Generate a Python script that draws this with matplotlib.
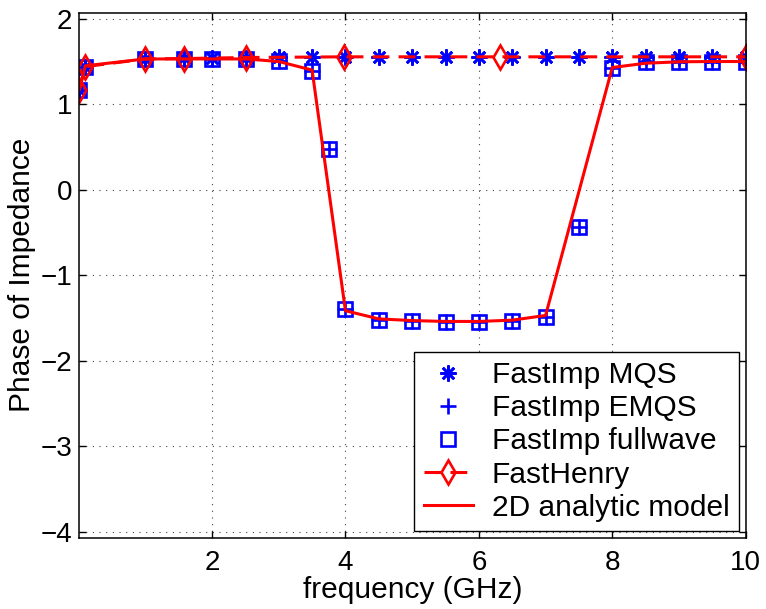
import matplotlib
matplotlib.use("Agg")
import matplotlib.pyplot as plt

plt.rcParams['font.family'] = ['Liberation Sans', 'DejaVu Sans']

# Frequencies (GHz) and phase of impedance (rad)
fastimp_freq = [0.01, 0.1, 1, 1.585, 2, 2.512, 3, 3.5, 3.75, 4, 4.5, 5, 5.5,
                6, 6.5, 7, 7.5, 8, 8.5, 9, 9.5, 10]
fullwave_phase = [1.17, 1.44, 1.53, 1.535, 1.53, 1.53, 1.51, 1.39, 0.48, -1.40,
                  -1.52, -1.54, -1.55, -1.55, -1.53, -1.49, -0.43, 1.43, 1.49,
                  1.50, 1.50, 1.50]
emqs_phase = [1.17, 1.44, 1.53, 1.535, 1.53, 1.53, 1.51, 1.39, 0.48, -1.40,
              -1.52, -1.54, -1.55, -1.55, -1.53, -1.49, -0.43, 1.43, 1.49,
              1.50, 1.50, 1.50]

mqs_freq = [0.01, 0.1, 1, 1.585, 2, 2.512, 3, 3.5, 4, 4.5, 5, 5.5, 6, 6.5, 7,
            7.5, 8, 8.5, 9, 9.5, 10]
mqs_phase = [1.17, 1.44, 1.53, 1.54, 1.54, 1.545, 1.55, 1.555, 1.555, 1.555,
             1.555, 1.555, 1.555, 1.555, 1.555, 1.555, 1.555, 1.555, 1.555,
             1.555, 1.555]

fasthenry_freq = [0.01, 0.1, 1, 1.585, 2.512, 3.981, 6.310, 10]
fasthenry_phase = [1.17, 1.44, 1.53, 1.535, 1.547, 1.555, 1.555, 1.555]

analytic_freq = [0.01, 0.1, 1, 1.585, 2, 2.512, 3, 3.5, 4, 4.5, 5, 5.5, 6,
                 6.5, 7, 8, 8.5, 9, 9.5, 10]
analytic_phase = [1.17, 1.45, 1.53, 1.53, 1.53, 1.53, 1.50, 1.40, -1.415,
                  -1.51, -1.53, -1.54, -1.54, -1.525, -1.47, 1.43, 1.48,
                  1.497, 1.50, 1.50]

x_ticks = [2, 4, 6, 8, 10]
y_ticks = [-4, -3, -2, -1, 0, 1, 2]

fig = plt.figure(figsize=(7.66, 6.09), dpi=100)
ax = fig.add_axes([0.1035, 0.117, 0.870, 0.862])

blue = '#0000ff'
red = '#ff0000'

ax.plot(mqs_freq, mqs_phase, linestyle='none', marker=(8, 2, 0),
        markersize=11.5, markeredgewidth=1.9, color=blue, label='FastImp MQS')
ax.plot(fastimp_freq, emqs_phase, linestyle='none', marker='+',
        markersize=11, markeredgewidth=1.9, color=blue, label='FastImp EMQS')
ax.plot(fastimp_freq, fullwave_phase, linestyle='none', marker='s',
        markersize=10.5, markeredgewidth=1.9, markerfacecolor='none',
        markeredgecolor=blue, label='FastImp fullwave')
ax.plot(fasthenry_freq, fasthenry_phase, linestyle=(0, (5.5, 3)),
        linewidth=2.2, marker='d', markersize=12.5, markeredgewidth=1.9,
        markerfacecolor='none', markeredgecolor=red, color=red,
        label='FastHenry')
ax.plot(analytic_freq, analytic_phase, linestyle='-', linewidth=2.2,
        color=red, label='2D analytic model')

ax.set_xlim(0.01, 10)
ax.set_ylim(-4.07, 2.07)
ax.set_xticks(x_ticks)
ax.set_yticks(y_ticks)
ax.set_xticklabels([str(t) for t in x_ticks])
ax.set_yticklabels([str(t).replace('-', '\u2212') for t in y_ticks])

ax.grid(True, linestyle=(0, (1, 5)), color='#444444', linewidth=0.8)
ax.tick_params(direction='in', top=True, right=True, length=5, width=1.0,
               labelsize=20)
ax.tick_params(axis='x', pad=9)
ax.tick_params(axis='y', pad=5)
for s in ax.spines.values():
    s.set_linewidth(1.1)

ax.set_xlabel('frequency (GHz)', fontsize=21.5, labelpad=0)
ax.set_ylabel('Phase of Impedance', fontsize=21.5, labelpad=3)

leg = ax.legend(loc='lower right', fontsize=21.5, frameon=True, fancybox=False,
                edgecolor='black', framealpha=1, labelspacing=0.17,
                handlelength=1.64, handletextpad=0.64, borderpad=0.32,
                borderaxespad=0.22)
leg.get_frame().set_linewidth(1.0)

fig.savefig('out.png', dpi=100)
